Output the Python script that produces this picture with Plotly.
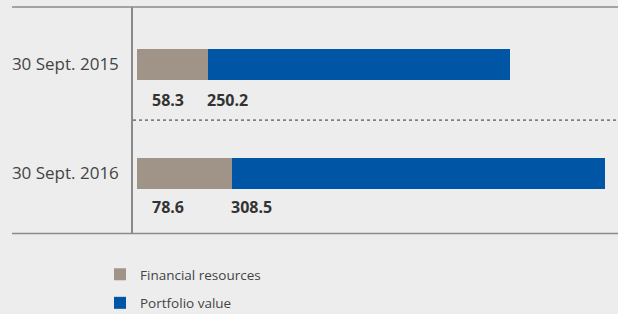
import plotly.graph_objects as go

categories = ["30 Sept. 2015", "30 Sept. 2016"]
financial_resources = [58.3, 78.6]
portfolio_value = [250.2, 308.5]
series_names = ["Financial resources", "Portfolio value"]

W, H = 618, 314
def px(x):
    return x / W
def py(y):
    return 1 - y / H

GRAY = "#a09488"
BLUE = "#0056a4"
BG = "#ededed"
FONT = "Open Sans"

fig = go.Figure()
fig.add_trace(go.Bar(
    y=categories, x=financial_resources, orientation="h",
    name=series_names[0], marker=dict(color=GRAY, line=dict(width=0)),
    width=0.284, legendgroup="a", hoverinfo="skip",
))
fig.add_trace(go.Bar(
    y=categories, x=portfolio_value, orientation="h",
    name=series_names[1], marker=dict(color=BLUE, line=dict(width=0)),
    width=0.284, legendgroup="b", hoverinfo="skip",
))

# value labels
for cat, fr, pv, ys in zip(categories, financial_resources, portfolio_value, [-35, -33]):
    fig.add_annotation(x=0, y=cat, xref="x", yref="y", text=f"<b>{fr:.1f}</b>",
                       showarrow=False, xanchor="left", xshift=13, yshift=ys,
                       font=dict(family=FONT, size=16, color="#333333"))
    fig.add_annotation(x=fr, y=cat, xref="x", yref="y", text=f"<b>{pv:.1f}</b>",
                       showarrow=False, xanchor="left", xshift=-3, yshift=ys,
                       font=dict(family=FONT, size=16, color="#333333"))

line_col = "#8a8a8a"
# top and bottom rules
fig.add_shape(type="line", xref="paper", yref="paper", x0=px(12), x1=1, y0=py(7), y1=py(7),
              line=dict(color=line_col, width=1.5))
fig.add_shape(type="line", xref="paper", yref="paper", x0=px(12), x1=1, y0=py(233.5), y1=py(233.5),
              line=dict(color=line_col, width=1.5))
# dotted separator
fig.add_shape(type="line", xref="paper", yref="y", x0=px(133), x1=1, y0=0.51, y1=0.51,
              line=dict(color="#333333", width=1, dash="3px,3px"))

fig.update_layout(
    width=W, height=H,
    margin=dict(l=0, r=0, t=0, b=0, autoexpand=False),
    paper_bgcolor=BG, plot_bgcolor=BG,
    barmode="stack", bargap=0,
    showlegend=True,
    legend=dict(x=px(100), y=py(259), xanchor="left", yanchor="top",
                traceorder="grouped", tracegroupgap=8,
                font=dict(family=FONT, size=13.5, color="#444444"),
                bgcolor="rgba(0,0,0,0)"),
    xaxis=dict(domain=[px(133), 1], range=[-3.31, 397.5], showgrid=False,
               zeroline=False, showticklabels=False, showline=False),
    yaxis=dict(domain=[py(234), py(7)], range=[1.555, -0.5275], showgrid=False,
               zeroline=False, showline=True, linecolor=line_col, linewidth=1.5,
               ticks="", ticklabelstandoff=9,
               tickfont=dict(family=FONT, size=17, color="#444444")),
    font=dict(family=FONT),
)

fig.write_html("out.html", config={"displayModeBar": False},
               post_script="document.body.style.margin='0';")
